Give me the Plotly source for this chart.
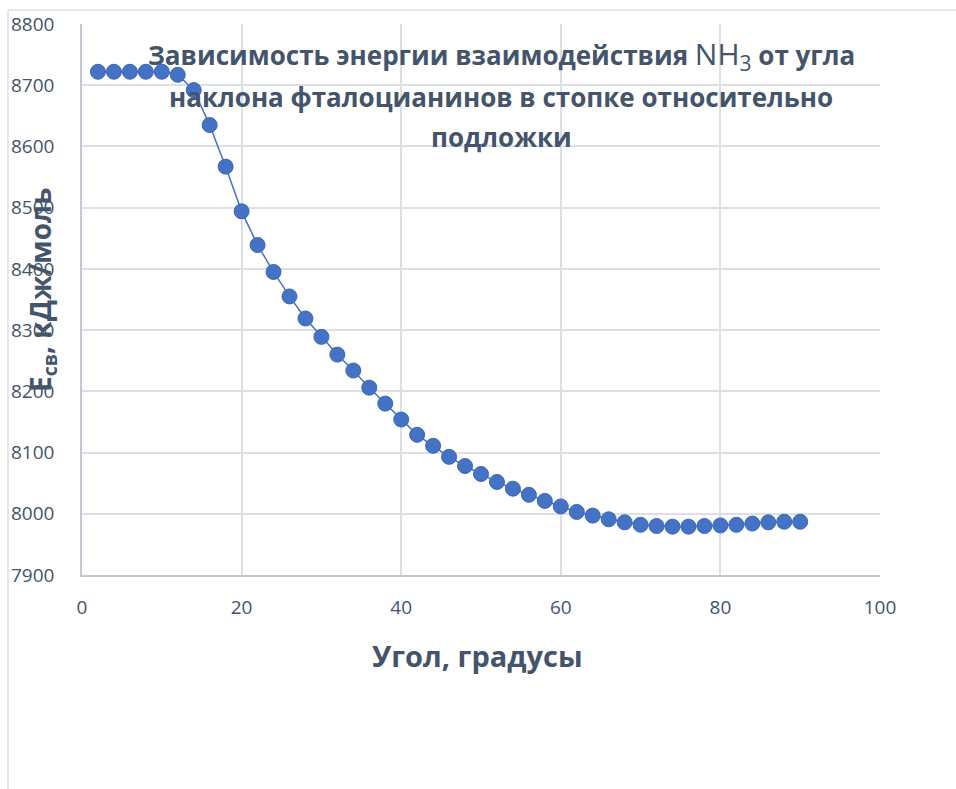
import plotly.graph_objects as go

# Tilt angle of the phthalocyanines in the stack (degrees)
angle = [2, 4, 6, 8, 10, 12, 14, 16, 18, 20, 22, 24, 26, 28, 30, 32, 34, 36, 38, 40,
         42, 44, 46, 48, 50, 52, 54, 56, 58, 60, 62, 64, 66, 68, 70, 72, 74, 76, 78, 80,
         82, 84, 86, 88, 90]
# NH3 interaction energy, kJ/mol
energy = [8722, 8722, 8722, 8722, 8722, 8717, 8692, 8635, 8567, 8494, 8439, 8395, 8355,
          8319, 8289, 8260, 8234, 8206, 8180, 8154, 8129, 8111, 8093, 8078, 8065, 8052,
          8041, 8031, 8021, 8012, 8003, 7997, 7991, 7986, 7982, 7980, 7979, 7979, 7980,
          7981, 7982, 7984, 7986, 7987, 7987]

x_ticks = [0, 20, 40, 60, 80, 100]
y_ticks = [7900, 8000, 8100, 8200, 8300, 8400, 8500, 8600, 8700, 8800]

title_lines = [
    "<b>Зависимость энергии взаимодействия </b>"
    "<span style='font-weight:normal;font-size:30px'>NH<sub>3</sub></span><b> от угла</b>",
    "<b>наклона фталоцианинов в стопке относительно</b>",
    "<b>подложки</b>",
]
x_title = "<b>Угол, градусы</b>"
y_title = "<b>E<sub>св</sub>, кДж/моль</b>"

TEXT = "#44546A"
GRID = "#DCDFE5"
AXIS = "#C3C9D4"
BLUE = "#4472C4"

fig = go.Figure()
fig.add_trace(go.Scatter(
    x=angle, y=energy, mode="lines+markers",
    line=dict(color=BLUE, width=1.5),
    marker=dict(color=BLUE, size=15, line=dict(color="#3C66B5", width=1)),
    showlegend=False,
))

W, H = 956, 789
L, R, T, B = 82, 76, 24, 214
pw, ph = W - L - R, H - T - B


def px(xp):
    return (xp - L) / pw


def py(yp):
    return (H - B - yp) / ph


annotations = []
for text, yc in zip(title_lines, [55, 97, 137]):
    annotations.append(dict(
        text=text, x=px(501), y=py(yc), xref="paper", yref="paper",
        xanchor="center", yanchor="middle", showarrow=False,
        font=dict(family="Open Sans", size=26, color=TEXT),
    ))
annotations.append(dict(
    text=x_title, x=px(477), y=py(655), xref="paper", yref="paper",
    xanchor="center", yanchor="middle", showarrow=False,
    font=dict(family="Open Sans", size=29, color=TEXT),
))
annotations.append(dict(
    text=y_title, x=px(42), y=py(290), xref="paper", yref="paper",
    xanchor="center", yanchor="middle", showarrow=False, textangle=-90,
    font=dict(family="Open Sans", size=28, color=TEXT),
))

# Outer chart-area frame (left and top edges)
shapes = [
    dict(type="line", xref="paper", yref="paper", x0=px(8), x1=px(8), y0=py(10), y1=py(789),
         line=dict(color="#DCDFE4", width=1.5)),
    dict(type="line", xref="paper", yref="paper", x0=px(8), x1=px(956), y0=py(10), y1=py(10),
         line=dict(color="#DCDFE4", width=1.5)),
]

fig.update_layout(
    width=W, height=H,
    margin=dict(l=L, r=R, t=T, b=B),
    paper_bgcolor="white", plot_bgcolor="white",
    annotations=annotations, shapes=shapes,
    xaxis=dict(
        range=[0, 100], tickvals=x_ticks, showgrid=True, gridcolor=GRID, gridwidth=1.5,
        showline=True, linecolor=AXIS, linewidth=1.5, zeroline=False, ticks="",
        tickfont=dict(family="Open Sans", size=19, color=TEXT), ticklabelstandoff=14,
    ),
    yaxis=dict(
        range=[7900, 8800], tickvals=y_ticks, showgrid=True, gridcolor=GRID, gridwidth=1.5,
        showline=True, linecolor=AXIS, linewidth=1.5, zeroline=False, ticks="",
        tickfont=dict(family="Open Sans", size=19, color=TEXT), ticklabelstandoff=22,
    ),
)

fig.write_html("out.html")
